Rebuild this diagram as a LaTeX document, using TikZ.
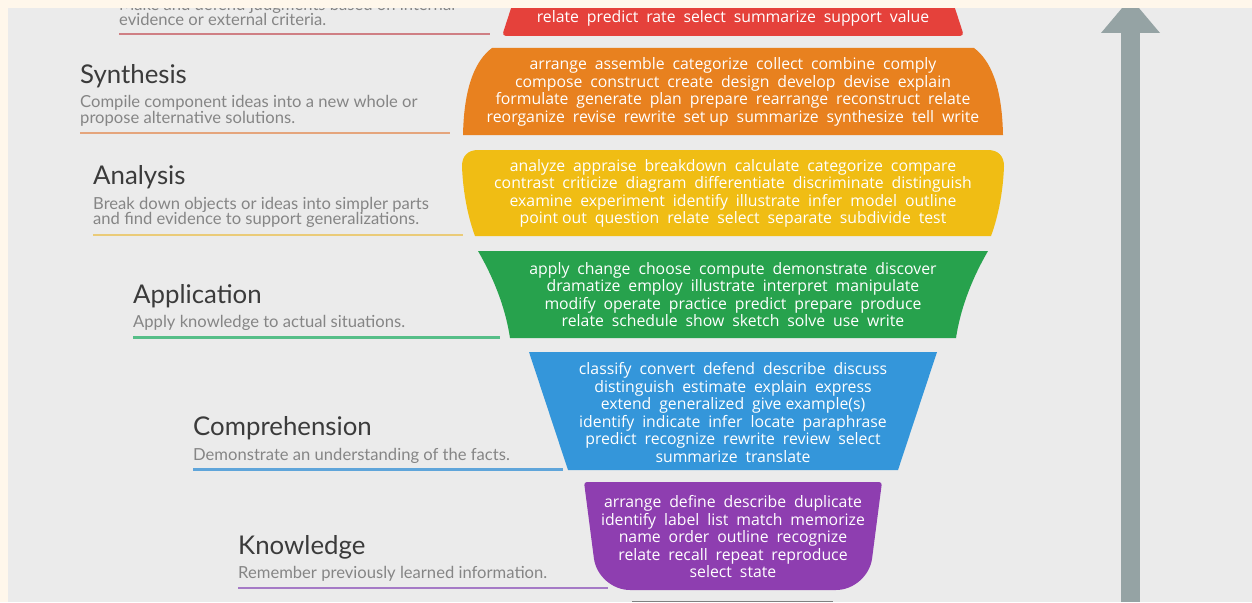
\documentclass[tikz,border=0pt]{standalone}
\usepackage{fontspec}
\setmainfont{Lato}
\newfontfamily\shapefont{Open Sans}
\definecolor{bgc}{HTML}{EBEBEB}
\definecolor{creamc}{HTML}{FFF7EB}
\definecolor{cred}{HTML}{E5413B}
\definecolor{corange}{HTML}{E8811F}
\definecolor{cyellow}{HTML}{F0BD14}
\definecolor{cgreen}{HTML}{27A24D}
\definecolor{cblue}{HTML}{3496DA}
\definecolor{cpurple}{HTML}{8E3EB0}
\definecolor{lred}{HTML}{CF7F84}
\definecolor{lorange}{HTML}{E5A57C}
\definecolor{lyellow}{HTML}{EACB78}
\definecolor{lgreen}{HTML}{56BE88}
\definecolor{lblue}{HTML}{5FA5DA}
\definecolor{lpurple}{HTML}{A57AC6}
\definecolor{arrowc}{HTML}{95A3A4}
\definecolor{titlec}{HTML}{3B3B3B}
\definecolor{descc}{HTML}{858585}
\newcommand{\ns}{\hspace{0.25em}}
\begin{document}
\begin{tikzpicture}[x=1pt,y=-1pt,
  titletxt/.style={anchor=base west, inner sep=0pt, text=titlec, font=\fontsize{25.8}{26}\selectfont},
  desctxt/.style={anchor=base west, inner sep=0pt, text=descc, font=\fontsize{16.6}{17}\selectfont},
  shapetxt/.style={anchor=center, inner sep=0pt, text=white, align=center,
    font={\shapefont\fontsize{15.8}{17.5}\selectfont\spaceskip=0.5em plus 0.1em\relax}},
  uline/.style={line width=2.5pt}]
\useasboundingbox (0,0) rectangle (1252,602);
\fill[bgc] (0,0) rectangle (1252,602);

% ---------- bulb bands ----------
% Evaluation (red)
\fill[cred, rounded corners=4pt] (515,-4) -- (951,-4) -- (964,36) -- (502,36) -- cycle;
% Synthesis (orange)
\fill[corange] (492,48) -- (974,48) .. controls (990,60) and (1002,85) .. (1003,135)
  -- (463,135) .. controls (464,85) and (476,60) .. (492,48) -- cycle;
% Analysis (yellow)
\fill[cyellow] (478,150) -- (988,150) .. controls (998,150) and (1004,156) .. (1004,166)
  .. controls (1003,195) and (997,220) .. (991,236) -- (475,236)
  .. controls (469,220) and (463,195) .. (462,166) .. controls (462,156) and (468,150) .. (478,150) -- cycle;
% Application (green)
\fill[cgreen] (478,251) -- (988,251) .. controls (974,275) and (961,305) .. (956,338)
  -- (510,338) .. controls (505,305) and (492,275) .. (478,251) -- cycle;
% Comprehension (blue)
\fill[cblue] (529,352) -- (937,352) -- (898,470) -- (568,470) -- cycle;
% Knowledge (purple)
\fill[cpurple, rounded corners=3pt] (584,482) -- (882,482) [rounded corners=32pt] -- (868,590) -- (598,590) [rounded corners=3pt] -- cycle;

% ---------- band texts ----------
\node[shapetxt] (evalw) at (733,18) {relate predict rate select summarize support value};
\node[shapetxt] (synw) at (733,92) {arrange assemble categorize collect combine comply\\
compose construct create design develop devise explain\\
formulate generate plan prepare rearrange reconstruct relate\\
reorganize revise rewrite set\ns up summarize synthesize tell write};
\node[shapetxt] (anaw) at (733,193.5) {analyze appraise breakdown calculate categorize compare\\
contrast criticize diagram differentiate discriminate distinguish\\
examine experiment identify illustrate infer model outline\\
point\ns out question relate select separate subdivide test};
\node[shapetxt] (appw) at (733,294.5) {apply change choose compute demonstrate discover\\
dramatize employ illustrate interpret manipulate\\
modify operate practice predict prepare produce\\
relate schedule show sketch solve use write};
\node[shapetxt] (compw) at (733,412.5) {classify convert defend describe discuss\\
distinguish estimate explain express\\
extend generalized give\ns example(s)\\
identify indicate infer locate paraphrase\\
predict recognize rewrite review select\\
summarize translate};
\node[shapetxt] (knoww) at (733,537) {arrange define describe duplicate\\
identify label list match memorize\\
name order outline recognize\\
relate recall repeat reproduce\\
select state};

% ---------- labels ----------
\node[desctxt] (evald1) at (119,11) {Make and defend judgments based on internal};
\node[desctxt] (evald2) at (119,26) {evidence or external criteria.};
\draw[uline, lred] (119,34) -- (490,34);

\node[titletxt] (synt) at (80,83) {Synthesis};
\node[desctxt] (synd1) at (80,107.5) {Compile component ideas into a new whole or};
\node[desctxt] (synd2) at (80,123) {propose alternative solutions.};
\draw[uline, lorange] (80,133) -- (450,133);

\node[titletxt] (anat) at (93,184.5) {Analysis};
\node[desctxt] (anad1) at (93,209) {Break down objects or ideas into simpler parts};
\node[desctxt] (anad2) at (93,224.5) {and find evidence to support generalizations.};
\draw[uline, lyellow] (93,235) -- (463,235);

\node[titletxt] (appt) at (133,303) {Application};
\node[desctxt] (appd1) at (133,327.5) {Apply knowledge to actual situations.};
\draw[uline, lgreen] (133,337.5) -- (500,337.5);

\node[titletxt] (compt) at (193,435.5) {Comprehension};
\node[desctxt] (compd1) at (193,460) {Demonstrate an understanding of the facts.};
\draw[uline, lblue] (193,469.5) -- (563,469.5);

\node[titletxt] (knowt) at (238,554) {Knowledge};
\node[desctxt] (knowd1) at (238,578) {Remember previously learned information.};
\draw[uline, lpurple] (238,588) -- (608,588);

% ---------- bottom base edge ----------
\draw[line width=1.5pt, color=gray] (632,601.5) -- (833,601.5);

% ---------- arrow ----------
\fill[arrowc] (1121,32) rectangle (1140,602);
\fill[arrowc] (1101,33) -- (1160,33) -- (1130.5,-2) -- cycle;

% ---------- cream margins ----------
\fill[creamc] (0,0) rectangle (1252,8);
\fill[creamc] (0,0) rectangle (8,602);
\end{tikzpicture}
\end{document}
